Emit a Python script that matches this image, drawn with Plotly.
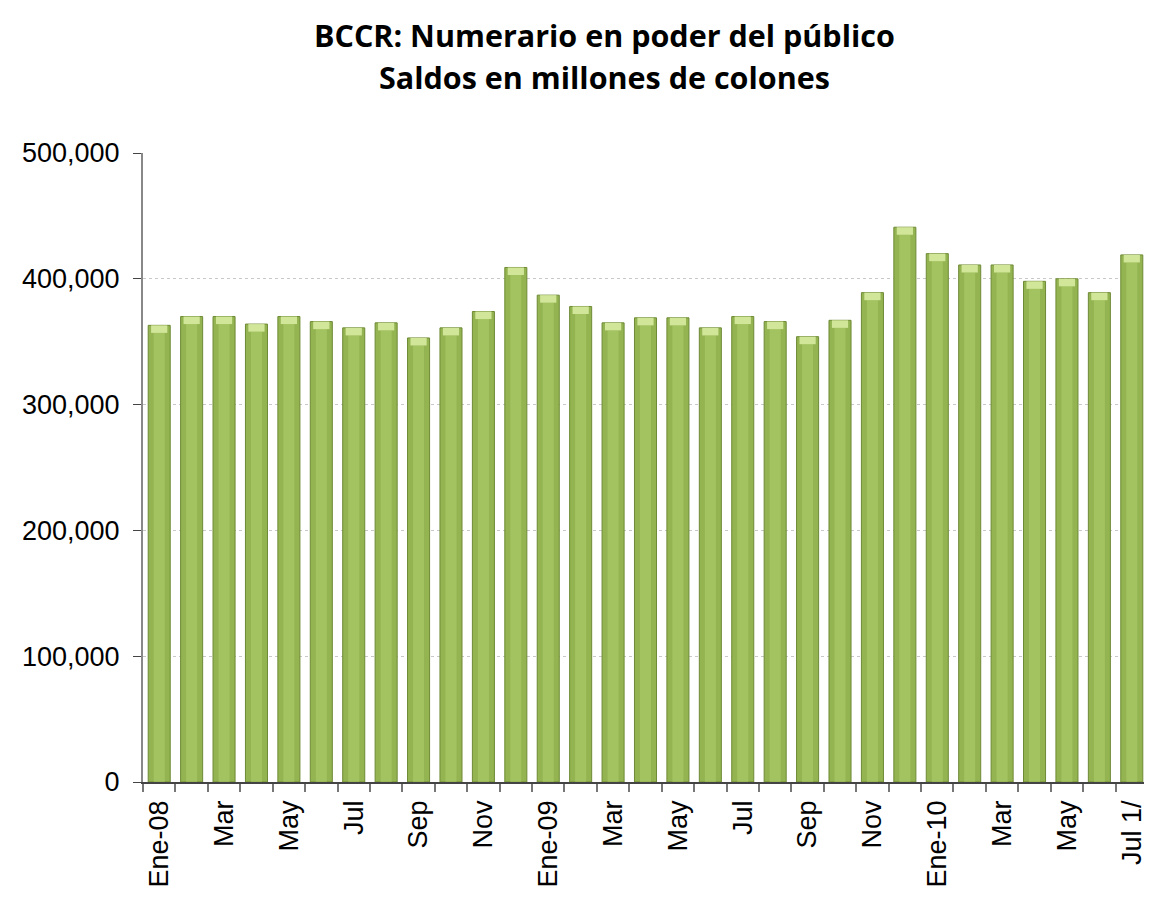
import plotly.graph_objects as go

months = ["Ene-08", "Feb", "Mar", "Abr", "May", "Jun", "Jul", "Ago", "Sep", "Oct", "Nov", "Dic",
          "Ene-09", "Feb", "Mar", "Abr", "May", "Jun", "Jul", "Ago", "Sep", "Oct", "Nov", "Dic",
          "Ene-10", "Feb", "Mar", "Abr", "May", "Jun", "Jul 1/"]
values = [363000, 370000, 370000, 364000, 370000, 366000, 361000, 365000, 353000, 361000, 374000, 409000,
          387000, 378000, 365000, 369000, 369000, 361000, 370000, 366000, 354000, 367000, 389000, 441000,
          420000, 411000, 411000, 398000, 400000, 389000, 419000]
y_ticks = [0, 100000, 200000, 300000, 400000, 500000]

idx = list(range(len(values)))
label_idx = idx[::2]
label_txt = [months[i] for i in label_idx]
cap = 6000

fig = go.Figure()
fig.add_trace(go.Bar(
    x=idx, y=values,
    marker=dict(color="#93B451", line=dict(color="#6E8A35", width=1)),
    width=0.68,
))
# lighter centre stripe to mimic the shaded cylinder look
fig.add_trace(go.Bar(
    x=idx, y=[v - cap for v in values],
    marker=dict(color="rgba(185,212,115,0.45)", line=dict(width=0)),
    width=0.34,
))
# light bevel at the top of each bar
fig.add_trace(go.Bar(
    x=idx, y=[cap] * len(values), base=[v - cap for v in values],
    marker=dict(color="#D2E69A", line=dict(width=0)),
    width=0.5,
))

fig.update_layout(
    width=1144, height=894,
    barmode="overlay",
    showlegend=False,
    paper_bgcolor="white", plot_bgcolor="white",
    margin=dict(l=135, r=4, t=145, b=120),
    font=dict(family="Liberation Sans, Arial, sans-serif", color="black"),
    annotations=[
        dict(text="<b>BCCR: Numerario en poder del público</b>", xref="paper", yref="paper",
             x=0.4597, y=1.1876, xanchor="center", yanchor="middle", showarrow=False,
             font=dict(family="Open Sans, Lato, sans-serif", size=30.5, color="black")),
        dict(text="<b>Saldos en millones de colones</b>", xref="paper", yref="paper",
             x=0.4597, y=1.1208, xanchor="center", yanchor="middle", showarrow=False,
             font=dict(family="Open Sans, Lato, sans-serif", size=30.5, color="black")),
    ],
)
fig.update_xaxes(
    range=[-0.5, len(values) - 0.5],
    tickmode="array", tickvals=label_idx, ticktext=label_txt,
    tickangle=-90, ticks="", tickfont=dict(size=27), ticklabelstandoff=6,
    showline=True, linecolor="#444", linewidth=1.5,
    showgrid=False, zeroline=False,
    minor=dict(ticks="outside", tickvals=[i - 0.5 for i in range(len(values) + 1)],
               ticklen=8, tickcolor="#777", tickwidth=1.5, showgrid=False),
)
fig.update_yaxes(
    range=[0, 500000],
    tickmode="array", tickvals=y_ticks, ticktext=[f"{v:,}" for v in y_ticks],
    tickfont=dict(size=27), ticks="outside", ticklen=8, tickcolor="#444",
    ticklabelstandoff=8,
    showline=True, linecolor="#888", linewidth=2,
    showgrid=True, gridcolor="#c8c8c8", griddash="dot", gridwidth=1,
    zeroline=False,
)
fig.add_shape(type="line", xref="paper", yref="paper", x0=1, x1=1, y0=0, y1=1,
              line=dict(color="#ddd", width=1))

fig.write_html("out.html")
